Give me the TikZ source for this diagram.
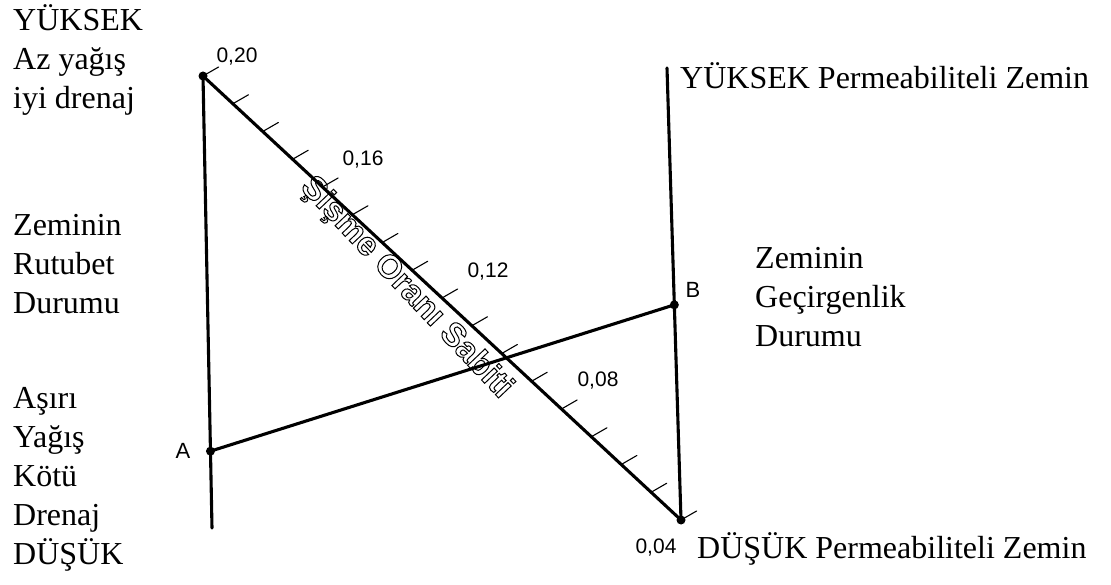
\documentclass[tikz,border=0pt]{standalone}
\usepackage{fontspec}
\setmainfont{Liberation Serif}
\setsansfont{Liberation Sans}
\usetikzlibrary{calc,positioning}
% hollow letters: text render mode 1 (stroke only)
\newcommand{\hollow}[1]{\special{pdf:literal direct 1 w 1 Tr}#1\special{pdf:literal direct 0 Tr}}

\begin{document}
\begin{tikzpicture}[x=1pt,y=-1pt,line cap=round,
  axis/.style={line width=3.1pt},
  tickmark/.style={line width=1.1pt},
  val/.style={font=\sffamily\fontsize{21}{21}\selectfont,inner sep=0pt},
  lbl/.style={font=\fontsize{32}{39}\selectfont,align=left,inner sep=0pt},
  dot/.style={circle,fill,inner sep=0pt,minimum size=9pt}]
\useasboundingbox (0,0) rectangle (1111,585);
% the three scales
\coordinate (top) at (203,76);
\coordinate (bot) at (681,520);
\coordinate (leftend) at (212,528);
\coordinate (righttop) at (667,68);
\coordinate (A) at ($(top)!0.83!(leftend)$);
\coordinate (B) at ($(righttop)!0.524!(bot)$);
\draw[axis] (top) -- (leftend);
\draw[axis] (righttop) -- (bot);
\draw[axis] (top) -- (bot);
\draw[axis] (A) -- (B);
\node[dot] (topdot) at (top) {};
\node[dot] (botdot) at (bot) {};
\node[dot] (adot) at (A) {};
\node[dot] (bdot) at (B) {};
% ticks every 0,01
\foreach \i in {0,...,16}
  \draw[tickmark] ($(top)!\i/16!(bot)$) -- ++(15.6,-9);
\node[val] (v20) at (237,57) {0,20};
\node[val] (v16) at (363,160) {0,16};
\node[val] (v12) at (488,272) {0,12};
\node[val] (v08) at (598,381) {0,08};
\node[val] (v04) at (656,548) {0,04};
\node[val,font=\sffamily\fontsize{22}{22}\selectfont] (alab) at (183,451) {A};
\node[val,font=\sffamily\fontsize{22}{22}\selectfont] (blab) at (693,290) {B};
% name of the middle scale
\node[rotate=-46.5,inner sep=0pt,font=\sffamily\bfseries\fontsize{33}{33}\selectfont] (sabit) at (406,288)
  {\hollow{Şişme Oranı Sabiti}};
% left texts
\node[lbl,anchor=west] (nemust) at (13,60) {YÜKSEK\\Az yağış\\iyi drenaj};
\node[lbl,anchor=west] (nem) at (13,264) {Zeminin\\Rutubet\\Durumu};
\node[lbl,anchor=west] (nemalt) at (13,479) {Aşırı\\Yağış\\Kötü\\Drenaj\\DÜŞÜK};
% right texts
\node[lbl,anchor=west] (permust) at (680,76) {YÜKSEK Permeabiliteli Zemin};
\node[lbl,anchor=west] (perm) at (755,297) {Zeminin\\Geçirgenlik\\Durumu};
\node[lbl,anchor=west] (permalt) at (697,549) {DÜŞÜK Permeabiliteli Zemin};
\end{tikzpicture}
\end{document}
